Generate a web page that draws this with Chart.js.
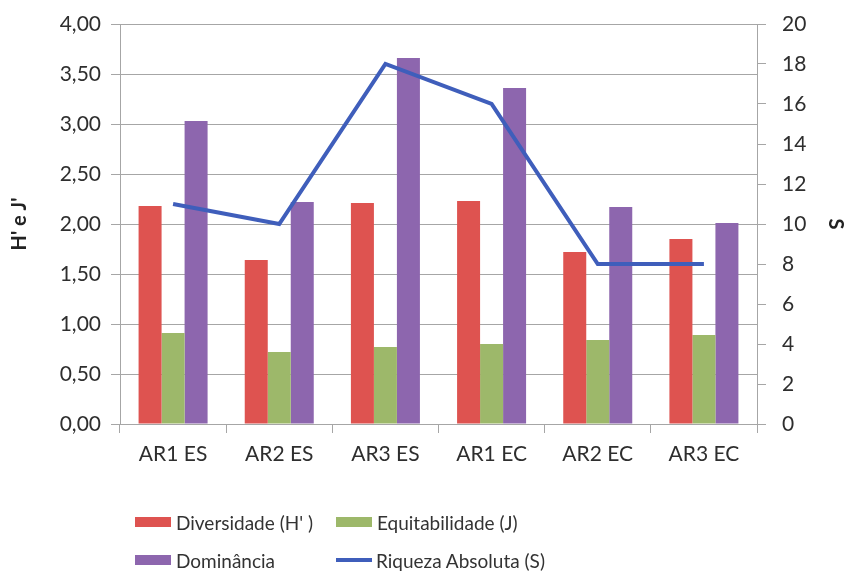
<!DOCTYPE html>
<html>
<head>
<meta charset="utf-8">
<script src="https://cdn.jsdelivr.net/npm/chart.js@4.4.1/dist/chart.umd.min.js"></script>
<style>
  html, body { margin: 0; padding: 0; background: #fff; }
  #wrap { position: relative; width: 847px; height: 572px; }
  .leg { position: absolute; font-family: Lato, sans-serif; font-size: 19px; color: #333; display: flex; align-items: center; white-space: nowrap; }
  .leg .sw { width: 36px; height: 10px; margin-right: 5px; }
  .leg .ln { width: 36px; height: 4px; margin-right: 4px; }
</style>
</head>
<body>
<div id="wrap">
  <canvas id="grafico" width="847" height="572"></canvas>
  <div id="legenda"></div>
</div>
<script>
const categorias = ['AR1 ES', 'AR2 ES', 'AR3 ES', 'AR1 EC', 'AR2 EC', 'AR3 EC'];
const diversidade = [2.18, 1.64, 2.21, 2.23, 1.72, 1.85];
const equitabilidade = [0.91, 0.72, 0.77, 0.80, 0.84, 0.89];
const dominancia = [3.03, 2.22, 3.66, 3.36, 2.17, 2.01];
const riqueza = [11, 10, 18, 16, 8, 8];

const corVermelho = '#DE5350';
const corVerde = '#9DB86A';
const corRoxo = '#8D66AE';
const corAzul = '#3F5EBB';
const corGrade = '#A6A6A6';
const corTexto = '#2E2E2E';
const fonteTick = { family: 'Lato', size: 21 };

const virgula = (v) => Number(v).toFixed(2).replace('.', ',');

new Chart(document.getElementById('grafico'), {
    type: 'bar',
    data: {
        labels: categorias,
        datasets: [
            { label: "Diversidade (H' )", data: diversidade, backgroundColor: corVermelho, yAxisID: 'y', order: 1 },
            { label: 'Equitabilidade (J)', data: equitabilidade, backgroundColor: corVerde, yAxisID: 'y', order: 1 },
            { label: 'Dominância', data: dominancia, backgroundColor: corRoxo, yAxisID: 'y', order: 1 },
            {
                type: 'line', label: 'Riqueza Absoluta (S)', data: riqueza, yAxisID: 'yS', order: 0,
                borderColor: corAzul, borderWidth: 4, pointRadius: 0, tension: 0, fill: false
            }
        ]
    },
    options: {
        responsive: false, animation: false,
        layout: { padding: { top: 24, left: 0, right: 0, bottom: 0 } },
        datasets: { bar: { categoryPercentage: 0.65, barPercentage: 1 } },
        plugins: { legend: { display: false }, tooltip: { enabled: false } },
        scales: {
            x: {
                grid: { display: true, drawOnChartArea: false, drawTicks: true, tickLength: 9, color: corGrade, offset: true },
                border: { color: corGrade },
                ticks: { font: fonteTick, color: corTexto, padding: 9 },
                afterFit: (s) => { s.height = 148; s.paddingLeft = 0; s.paddingRight = 0; }
            },
            y: {
                position: 'left', min: 0, max: 4,
                ticks: { stepSize: 0.5, font: fonteTick, color: corTexto, padding: 10, callback: (v) => virgula(v) },
                grid: { color: corGrade, tickLength: 9 },
                border: { color: corGrade },
                title: { display: true, text: "H' e J'", font: { family: 'Lato', size: 20, weight: 'bold' }, color: '#222', padding: 8 },
                afterFit: (s) => { s.width = 120; s.paddingTop = 0; s.paddingBottom = 0; }
            },
            yS: {
                position: 'right', min: 0, max: 20,
                ticks: { stepSize: 2, font: fonteTick, color: corTexto, padding: 16 },
                grid: { drawOnChartArea: false, color: corGrade, tickLength: 9 },
                border: { color: corGrade },
                title: { display: true, text: 'S', font: { family: 'Lato', size: 20, weight: 'bold' }, color: '#222', padding: 0 },
                afterFit: (s) => { s.width = 90; s.paddingTop = 0; s.paddingBottom = 0; }
            }
        }
    }
});

// legenda em duas colunas, como no original
const itensLegenda = [
    { texto: "Diversidade (H' )", cor: corVermelho, x: 135, y: 522 },
    { texto: 'Equitabilidade (J)', cor: corVerde, x: 336, y: 522 },
    { texto: 'Dominância', cor: corRoxo, x: 135, y: 560 },
    { texto: 'Riqueza Absoluta (S)', cor: corAzul, x: 336, y: 560, linha: true }
];
const legenda = document.getElementById('legenda');
itensLegenda.forEach(item => {
    const el = document.createElement('div');
    el.className = 'leg';
    el.style.left = item.x + 'px';
    el.style.top = (item.y - 12) + 'px';
    el.style.height = '24px';
    const sw = document.createElement('span');
    sw.className = item.linha ? 'ln' : 'sw';
    sw.style.background = item.cor;
    const tx = document.createElement('span');
    tx.textContent = item.texto;
    el.appendChild(sw);
    el.appendChild(tx);
    legenda.appendChild(el);
});
</script>
</body>
</html>
